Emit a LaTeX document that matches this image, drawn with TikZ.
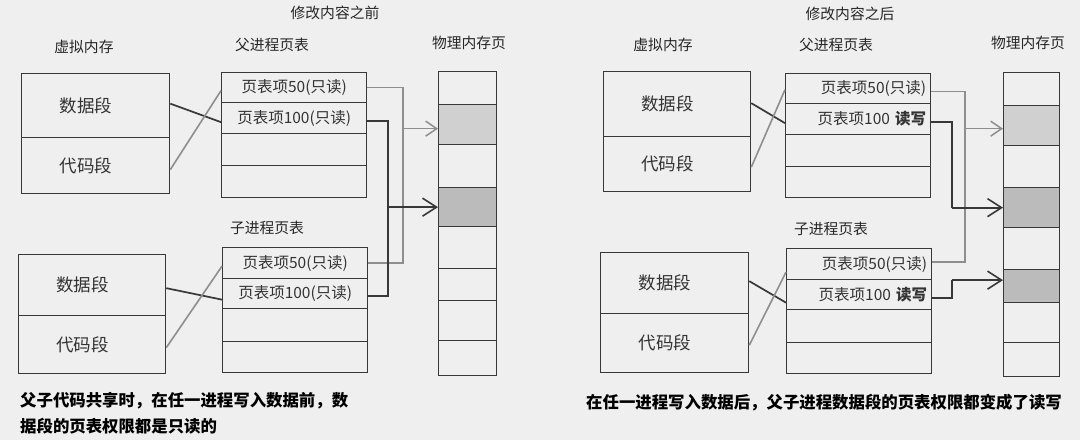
\documentclass[tikz,border=0pt]{standalone}
\usepackage{fontspec}
\setmainfont{Noto Sans CJK SC}
\usetikzlibrary{arrows.meta,calc}
\definecolor{bgc}{HTML}{EFEFEF}
\definecolor{linec}{HTML}{383838}
\definecolor{lightc}{HTML}{8E8E8E}
\definecolor{shadeA}{HTML}{D0D0D0}
\definecolor{shadeB}{HTML}{BBBBBB}
\newcommand{\segtxt}[1]{#1\hspace*{19pt}}
\begin{document}
\begin{tikzpicture}[x=1pt,y=-1pt,
  lbl/.style={font=\fontsize{14.8}{16}\selectfont, text=black!85, inner sep=0pt},
  seg/.style={draw=linec, line width=1.3pt, anchor=north west, inner sep=0pt, font=\fontsize{17.5}{18}\selectfont, text=black!80},
  cell/.style={draw=linec, line width=1.3pt, anchor=north west, inner sep=0pt, minimum width=145pt, font=\fontsize{15.5}{16}\selectfont, text=black!80},
  rcell/.style={cell, inner xsep=4pt, text width=136pt, align=right},
  mem/.style={draw=linec, line width=1.3pt, anchor=north west, inner sep=0pt},
  darkln/.style={draw=linec, line width=1.7pt},
  lightln/.style={draw=lightc, line width=1.6pt},
  darkarr/.style={darkln, -{Straight Barb[length=14pt,width=18pt,line width=1.6pt]}},
  lightarr/.style={lightln, -{Straight Barb[length=11pt,width=15pt,line width=1.5pt]}},
  captxt/.style={font=\bfseries\fontsize{16.4}{26}\selectfont, inner sep=0pt, align=left}
]
\fill[bgc] (0,0) rectangle (1080,440);
\useasboundingbox (0,0) rectangle (1080,440);

% ================= LEFT PANEL =================
\node[lbl] (t1) at (335,13) {修改内容之前};
\node[lbl] (lvmL) at (84,47) {虚拟内存};
\node[lbl] (lppL) at (272,45) {父进程页表};
\node[lbl] (lphL) at (469,43) {物理内存页};
\node[lbl] (lcpL) at (267,228) {子进程页表};

% virtual memory (parent)
\node[seg, minimum width=148pt, minimum height=64pt] (lvd) at (21,73) {\segtxt{数据段}};
\node[seg, minimum width=148pt, minimum height=56pt] (lvc) at (21,137) {\segtxt{代码段}};
% parent page table
\node[cell, minimum height=30pt] (lp1) at (221,72) {页表项50(只读)};
\node[cell, minimum height=31pt] (lp2) at (221,102) {页表项100(只读)};
\node[cell, minimum height=32pt] (lp3) at (221,133) {};
\node[cell, minimum height=32pt] (lp4) at (221,165) {};
% virtual memory (child)
\node[seg, minimum width=147pt, minimum height=61pt] (lvd2) at (18,254) {\segtxt{数据段}};
\node[seg, minimum width=147pt, minimum height=58pt] (lvc2) at (18,315) {\segtxt{代码段}};
% child page table
\node[cell, minimum height=31pt] (lc1) at (222,247) {页表项50(只读)};
\node[cell, minimum height=30pt] (lc2) at (222,278) {页表项100(只读)};
\node[cell, minimum height=33pt] (lc3) at (222,308) {};
\node[cell, minimum height=31pt] (lc4) at (222,341) {};
% physical memory
\node[mem, minimum width=58pt, minimum height=33pt] (lm1) at (438,71) {};
\node[mem, fill=shadeA, minimum width=58pt, minimum height=40pt] (lm2) at (438,104) {};
\node[mem, minimum width=58pt, minimum height=43pt] (lm3) at (438,144) {};
\node[mem, fill=shadeB, minimum width=58pt, minimum height=39pt] (lm4) at (438,187) {};
\node[mem, minimum width=58pt, minimum height=42pt] (lm5) at (438,226) {};
\node[mem, minimum width=58pt, minimum height=32pt] (lm6) at (438,268) {};
\node[mem, minimum width=58pt, minimum height=40pt] (lm7) at (438,300) {};
\node[mem, minimum width=58pt, minimum height=35pt] (lm8) at (438,340) {};

% mapping lines VM -> PT
\draw[darkln] ([yshift=2pt]lvd.east) -- ([yshift=-4pt]lp2.west);
\draw[lightln] ([yshift=-4pt]lvc.east) -- ([yshift=-3pt]lp1.west);
\draw[darkln] ([yshift=-3pt]lvd2.east) -- ([yshift=-6pt]lc2.west);
\draw[lightln] ([yshift=-3pt]lvc2.east) -- ([yshift=-3pt]lc1.west);

% PT -> physical memory
\coordinate (lbA) at (403,0);
\coordinate (lbB) at (388,0);
\draw[lightln] (lp1.east) -- (lp1.east -| lbA) -- (lc1.east -| lbA) -- (lc1.east);
\draw[lightarr] ([yshift=-4pt]lm2.west -| lbA) -- ([yshift=-4pt]lm2.west);
\draw[darkln] ([yshift=-3pt]lp2.east) -- ([yshift=-3pt]lp2.east -| lbB) -- ([yshift=-2pt]lc2.east -| lbB) -- ([yshift=-2pt]lc2.east);
\draw[darkarr] (lm4.west -| lbB) -- (lm4.west);

\node[captxt, anchor=north west] (capL) at (20,392) {父子代码共享时，在任一进程写入数据前，数\\据段的页表权限都是只读的};

% ================= RIGHT PANEL =================
\node[lbl] (t2) at (850,14) {修改内容之后};
\node[lbl] (rvmL) at (663,45) {虚拟内存};
\node[lbl] (rppL) at (836,45) {父进程页表};
\node[lbl] (rphL) at (1028,43) {物理内存页};
\node[lbl] (rcpL) at (831,229) {子进程页表};

\node[seg, minimum width=147pt, minimum height=65pt] (rvd) at (603,71) {\segtxt{数据段}};
\node[seg, minimum width=147pt, minimum height=55pt] (rvc) at (603,136) {\segtxt{代码段}};
\node[rcell, minimum height=30pt] (rp1) at (785,73) {页表项50(只读)};
\node[rcell, minimum height=31pt] (rp2) at (785,103) {页表项100 \textbf{读写}};
\node[rcell, minimum height=32pt] (rp3) at (785,134) {};
\node[rcell, minimum height=31pt] (rp4) at (785,166) {};

\node[seg, minimum width=148pt, minimum height=61pt] (rvd2) at (600,252) {\segtxt{数据段}};
\node[seg, minimum width=148pt, minimum height=59pt] (rvc2) at (600,313) {\segtxt{代码段}};
\node[rcell, minimum height=31pt] (rc1) at (786,248) {页表项50(只读)};
\node[rcell, minimum height=30pt] (rc2) at (786,279) {页表项100 \textbf{读写}};
\node[rcell, minimum height=33pt] (rc3) at (786,309) {};
\node[rcell, minimum height=31pt] (rc4) at (786,342) {};

\node[mem, minimum width=56pt, minimum height=33pt] (rm1) at (1003,72) {};
\node[mem, fill=shadeA, minimum width=56pt, minimum height=40pt] (rm2) at (1003,105) {};
\node[mem, minimum width=56pt, minimum height=42pt] (rm3) at (1003,145) {};
\node[mem, fill=shadeB, minimum width=56pt, minimum height=40pt] (rm4) at (1003,187) {};
\node[mem, minimum width=56pt, minimum height=42pt] (rm5) at (1003,227) {};
\node[mem, fill=shadeB, minimum width=56pt, minimum height=33pt] (rm6) at (1003,269) {};
\node[mem, minimum width=56pt, minimum height=40pt] (rm7) at (1003,302) {};
\node[mem, minimum width=56pt, minimum height=34pt] (rm8) at (1003,342) {};

\draw[darkln] ([yshift=1pt]rvd.east) -- ([yshift=-4pt]rp2.west);
\draw[lightln] ([yshift=-3pt]rvc.east) -- ([yshift=-1pt]rp1.west);
\draw[darkln] ([yshift=2pt]rvd2.east) -- ([yshift=-8pt]rc2.west);
\draw[lightln] ([yshift=-2pt]rvc2.east) -- ([yshift=-8pt]rc1.west);

\coordinate (rbA) at (965,0);
\coordinate (rbB) at (952,0);
\draw[lightln] ([yshift=-3pt]rp1.east) -- ([yshift=-3pt]rp1.east -| rbA) -- ([yshift=2pt]rc1.east -| rbA) -- ([yshift=2pt]rc1.east);
\draw[lightarr] ([yshift=-3pt]rm2.west -| rbA) -- ([yshift=-3pt]rm2.west);
\draw[darkln] ([yshift=-3pt]rp2.east) -- ([yshift=-3pt]rp2.east -| rbB) -- (rm4.west -| rbB);
\draw[darkarr] (rm4.west -| rbB) -- (rm4.west);
\draw[darkln] ([yshift=-3pt]rc2.east) -- ([yshift=-3pt]rc2.east -| rbB) -- ([yshift=6pt]rm6.west -| rbB);
\draw[darkarr] ([yshift=6pt]rm6.west -| rbB) -- ([yshift=6pt]rm6.west);

\node[captxt, anchor=west] (capR) at (586,403) {在任一进程写入数据后，父子进程数据段的页表权限都变成了读写};
\end{tikzpicture}
\end{document}
